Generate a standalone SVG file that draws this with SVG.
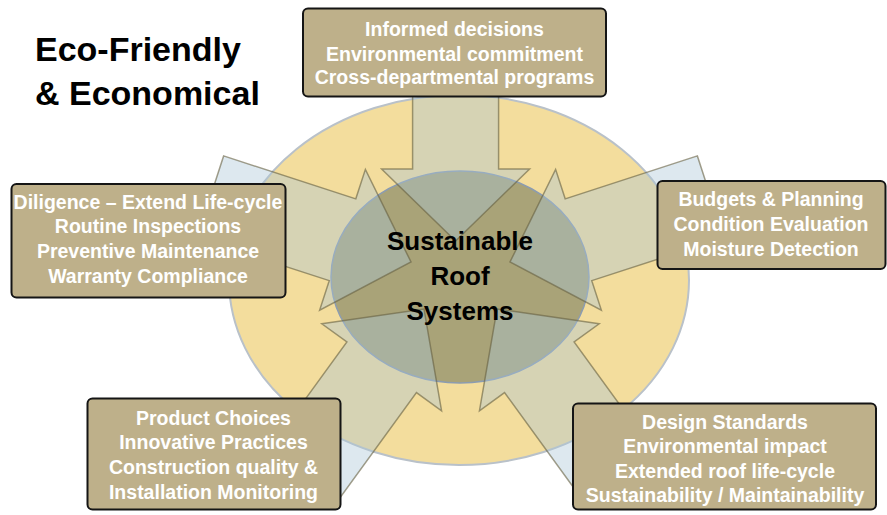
<svg xmlns="http://www.w3.org/2000/svg" xmlns:xlink="http://www.w3.org/1999/xlink" width="887" height="515" viewBox="0 0 887 515">
  <style>
    .halo { fill: #f3dd9d; stroke: #b9c1c9; stroke-width: 2; }
    .core { fill: #787d5f; fill-opacity: 0.6; stroke: #8c9cb0; stroke-width: 1.5; }
    .arrow { fill: #a9c6d6; fill-opacity: 0.4; stroke: #665f40; stroke-opacity: 0.6; stroke-width: 1.5; stroke-linejoin: miter; }
    .box { fill: #beb08a; stroke: #151515; stroke-width: 2; }
    .label { font-family: "Liberation Sans", Arial, sans-serif; font-weight: 700; font-size: 19.5px; fill: #ffffff; text-anchor: middle; }
    .title { font-family: "Liberation Sans", Arial, sans-serif; font-weight: 700; font-size: 34px; fill: #000000; }
    .hub { font-family: "Liberation Sans", Arial, sans-serif; font-weight: 700; font-size: 26px; fill: #000000; text-anchor: middle; }
  </style>
  <defs>
    <!-- block arrow pointing along +x, tip at the origin -->
    <path id="blockArrow" d="M -211,-43 L -72,-43 L -72,-74 L 0,0 L -72,74 L -72,43 L -211,43 Z"/>
  </defs>

  <rect width="887" height="515" fill="#ffffff"/>

  <!-- title -->
  <g id="title">
    <text class="title" x="35" y="61">Eco-Friendly</text>
    <text class="title" x="35" y="105">&amp; Economical</text>
  </g>

  <!-- background ring and central hub -->
  <g id="hub">
    <ellipse class="halo" cx="459" cy="280" rx="230" ry="185"/>
    <ellipse class="core" cx="460" cy="277" rx="129" ry="106"/>
  </g>

  <!-- converging arrows -->
  <g id="connectors">
    <use xlink:href="#blockArrow" class="arrow" transform="translate(455.6,241) rotate(90)"/>
    <use xlink:href="#blockArrow" class="arrow" transform="translate(411,262) rotate(18)"/>
    <use xlink:href="#blockArrow" class="arrow" transform="translate(510,262) rotate(162)"/>
    <use xlink:href="#blockArrow" class="arrow" transform="translate(424,309) rotate(-54)"/>
    <use xlink:href="#blockArrow" class="arrow" transform="translate(497,309) rotate(-126)"/>
  </g>

  <g id="hub-label">
    <text class="hub" x="460" y="250">Sustainable</text>
    <text class="hub" x="460" y="285">Roof</text>
    <text class="hub" x="460" y="320">Systems</text>
  </g>

  <g id="node-informed">
    <rect class="box" x="303" y="8.5" width="303" height="88" rx="5"/>
    <text class="label" x="454.5" y="36">Informed decisions</text>
    <text class="label" x="454.5" y="60.5">Environmental commitment</text>
    <text class="label" x="454.5" y="84">Cross-departmental programs</text>
  </g>

  <g id="node-diligence">
    <rect class="box" x="11.5" y="184" width="274" height="113.5" rx="5"/>
    <text class="label" x="148" y="208.5">Diligence – Extend Life-cycle</text>
    <text class="label" x="148" y="233.3">Routine Inspections</text>
    <text class="label" x="148" y="258">Preventive Maintenance</text>
    <text class="label" x="148" y="282.7">Warranty Compliance</text>
  </g>

  <g id="node-budgets">
    <rect class="box" x="657.5" y="181" width="228" height="88" rx="5"/>
    <text class="label" x="771" y="206">Budgets &amp; Planning</text>
    <text class="label" x="771" y="231">Condition Evaluation</text>
    <text class="label" x="771" y="256">Moisture Detection</text>
  </g>

  <g id="node-product">
    <rect class="box" x="87.5" y="398.5" width="253" height="111" rx="5"/>
    <text class="label" x="213.5" y="424.5">Product Choices</text>
    <text class="label" x="213.5" y="449">Innovative Practices</text>
    <text class="label" x="213.5" y="473.5">Construction quality &amp;</text>
    <text class="label" x="213.5" y="499">Installation Monitoring</text>
  </g>

  <g id="node-design">
    <rect class="box" x="573" y="403.5" width="303" height="106" rx="5"/>
    <text class="label" x="725" y="428.5">Design Standards</text>
    <text class="label" x="725" y="453">Environmental impact</text>
    <text class="label" x="725" y="477.5">Extended roof life-cycle</text>
    <text class="label" x="725" y="502">Sustainability / Maintainability</text>
  </g>
</svg>
